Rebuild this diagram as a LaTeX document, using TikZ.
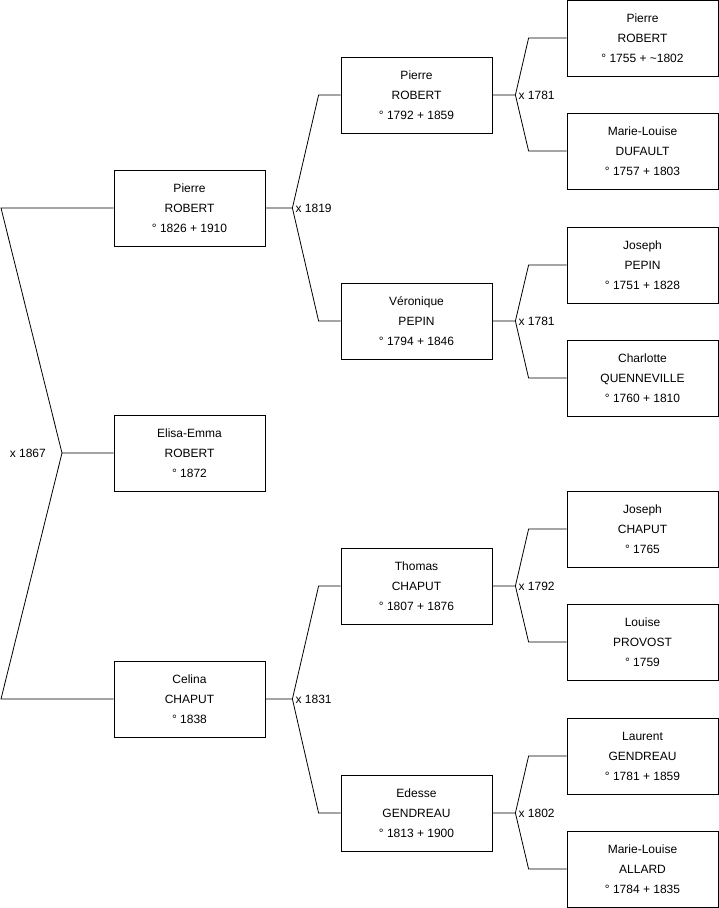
\documentclass[tikz,border=0pt]{standalone}
\usepackage{fontspec}
\setmainfont{Liberation Sans}
\usetikzlibrary{positioning}

\begin{document}
\begin{tikzpicture}[x=1pt,y=-1pt,every node/.style={font=\fontsize{12}{20}\selectfont},
  person/.style={draw,line width=.8pt,align=center,minimum width=151pt,minimum height=76pt,inner sep=0pt},
  link/.style={line width=.8pt},
  year/.style={inner sep=1pt}]
  \useasboundingbox (0,0) rectangle (719,908);
  % generation 1
  \node[person] (pierreA) at (189.5,208) {Pierre\\ROBERT\\° 1826 + 1910};
  \node[person] (elisa) at (189.5,453) {Elisa-Emma\\ROBERT\\° 1872};
  \node[person] (celina) at (189.5,699) {Celina\\CHAPUT\\° 1838};
  % generation 2
  \node[person] (pierreB) at (416.5,95) {Pierre\\ROBERT\\° 1792 + 1859};
  \node[person] (veronique) at (416.5,321) {Véronique\\PEPIN\\° 1794 + 1846};
  \node[person] (thomas) at (416.5,586) {Thomas\\CHAPUT\\° 1807 + 1876};
  \node[person] (edesse) at (416.5,813) {Edesse\\GENDREAU\\° 1813 + 1900};
  % generation 3
  \node[person] (pierreC) at (642.5,38) {Pierre\\ROBERT\\° 1755 + \textasciitilde1802};
  \node[person] (marieD) at (642.5,151) {Marie-Louise\\DUFAULT\\° 1757 + 1803};
  \node[person] (josephP) at (642.5,265) {Joseph\\PEPIN\\° 1751 + 1828};
  \node[person] (charlotte) at (642.5,378) {Charlotte\\QUENNEVILLE\\° 1760 + 1810};
  \node[person] (josephC) at (642.5,529) {Joseph\\CHAPUT\\° 1765};
  \node[person] (louise) at (642.5,642) {Louise\\PROVOST\\° 1759};
  \node[person] (laurent) at (642.5,756) {Laurent\\GENDREAU\\° 1781 + 1859};
  \node[person] (marieA) at (642.5,869) {Marie-Louise\\ALLARD\\° 1784 + 1835};
  % root couple
  \coordinate (f0) at (62,453);
  \coordinate (r1) at (1,208);
  \coordinate (r2) at (1,699);
  \draw[link] (elisa.west) -- (f0) -- (r1) -- (pierreA.west);
  \draw[link] (f0) -- (r2) -- (celina.west);
  \node[year,anchor=east] (y0) at ([xshift=-15pt]f0) {x 1867};
  % parents
  \foreach \kid/\dad/\mum/\yr/\a/\b in {pierreA/pierreB/veronique/1819/27/22,
      celina/thomas/edesse/1831/27/22, pierreB/pierreC/marieD/1781/23/38,
      veronique/josephP/charlotte/1781/23/38, thomas/josephC/louise/1792/23/38,
      edesse/laurent/marieA/1802/23/38} {
    \coordinate (f-\kid) at ([xshift=\a pt]\kid.east);
    \draw[link] (\kid.east) -- (f-\kid) -- ([xshift=-\b pt]\dad.west) -- (\dad.west);
    \draw[link] (f-\kid) -- ([xshift=-\b pt]\mum.west) -- (\mum.west);
    \node[year,anchor=west] (y-\kid) at ([xshift=2pt]f-\kid) {x \yr};
  }
\end{tikzpicture}
\end{document}
